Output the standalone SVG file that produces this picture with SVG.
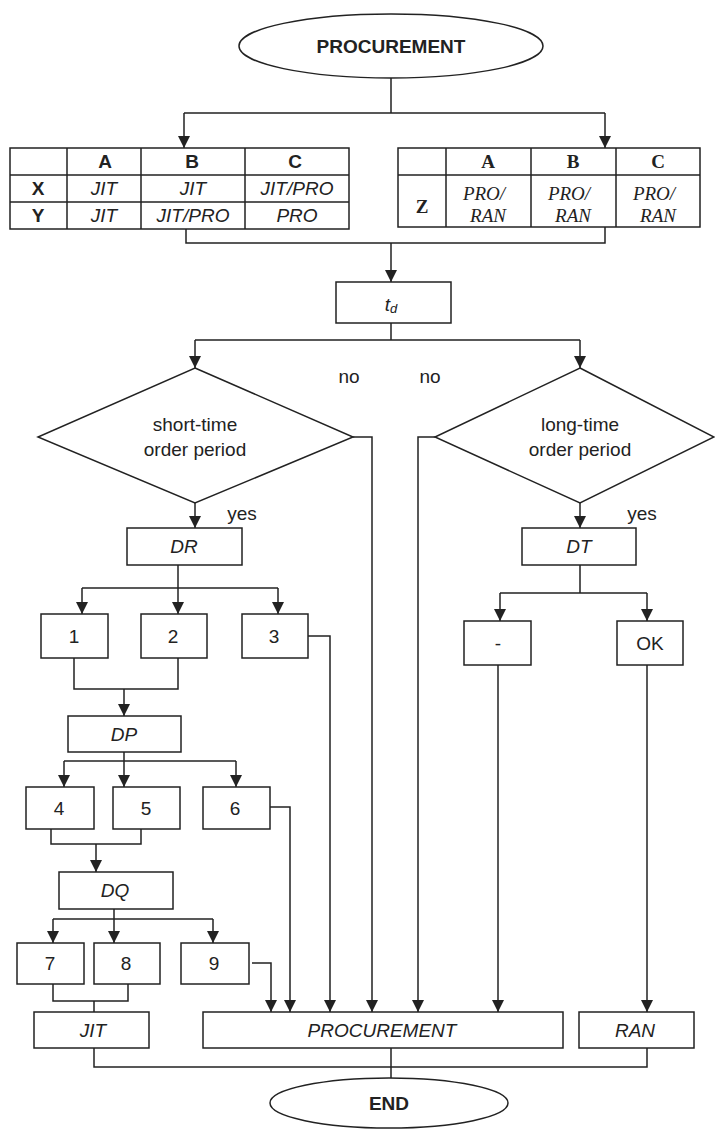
<svg xmlns="http://www.w3.org/2000/svg" width="715" height="1129" viewBox="0 0 715 1129">
<style>
.s{fill:#fff;stroke:#222;stroke-width:1.5}
.c{fill:none;stroke:#222;stroke-width:1.5}
.t{font-family:"Liberation Sans",Arial,sans-serif;font-size:19px;fill:#222;text-anchor:middle}
.b{font-weight:bold}
.i{font-style:italic}
.tm{font-family:"Liberation Serif","Times New Roman",serif;font-size:19px;fill:#222;text-anchor:middle}
</style>
<defs>
<marker id="a" markerWidth="12" markerHeight="12" refX="12" refY="6" orient="auto" markerUnits="userSpaceOnUse">
<path d="M0,0 L12,6 L0,12 z" fill="#222"/>
</marker>
</defs>
<rect width="715" height="1129" fill="#fff"/>
<g id="connectors" class="c">
<path d="M391,78 V113 M184,113 H605"/>
<path d="M184,113 V148" marker-end="url(#a)"/>
<path d="M605,113 V148" marker-end="url(#a)"/>
<path d="M186,229 V243 H605 V227"/>
<path d="M391,243 V282" marker-end="url(#a)"/>
<path d="M391,323 V340 M195,340 H580"/>
<path d="M195,340 V368" marker-end="url(#a)"/>
<path d="M580,340 V368" marker-end="url(#a)"/>
<path d="M353,437 H372 V1012" marker-end="url(#a)"/>
<path d="M435,437 H418 V1012" marker-end="url(#a)"/>
<path d="M195,503 V528" marker-end="url(#a)"/>
<path d="M580,503 V528" marker-end="url(#a)"/>
<path d="M178,565 V614" marker-end="url(#a)"/>
<path d="M82,588 H278"/>
<path d="M82,588 V614" marker-end="url(#a)"/>
<path d="M278,588 V614" marker-end="url(#a)"/>
<path d="M308,636 H330 V1012" marker-end="url(#a)"/>
<path d="M74,658 V689 H178 V658"/>
<path d="M124,689 V716" marker-end="url(#a)"/>
<path d="M124,752 V787" marker-end="url(#a)"/>
<path d="M64,761 H236"/>
<path d="M64,761 V787" marker-end="url(#a)"/>
<path d="M236,761 V787" marker-end="url(#a)"/>
<path d="M270,807 H290 V1012" marker-end="url(#a)"/>
<path d="M51,829 V844 H141 V829"/>
<path d="M96,844 V872" marker-end="url(#a)"/>
<path d="M114,909 V943" marker-end="url(#a)"/>
<path d="M53,919 H213"/>
<path d="M53,919 V943" marker-end="url(#a)"/>
<path d="M213,919 V943" marker-end="url(#a)"/>
<path d="M252,963 H271 V1012" marker-end="url(#a)"/>
<path d="M53,984 V1001 H128 V984 M94,1001 V1012"/>
<path d="M580,565 V593 M500,593 H647"/>
<path d="M500,593 V621" marker-end="url(#a)"/>
<path d="M647,593 V621" marker-end="url(#a)"/>
<path d="M498,665 V1012" marker-end="url(#a)"/>
<path d="M647,665 V1012" marker-end="url(#a)"/>
<path d="M94,1048 V1067 H647 V1048 M391,1048 V1078"/>
</g>
<g id="start">
<ellipse class="s" cx="391" cy="46" rx="152" ry="32"/>
<text class="t b" x="391" y="53">PROCUREMENT</text>
</g>
<g id="table-left">
<rect class="s" x="10" y="148" width="339" height="81"/>
<path class="c" d="M10,175 H349 M10,202 H349 M67,148 V229 M141,148 V229 M245,148 V229"/>
<text class="t b" x="105" y="168">A</text>
<text class="t b" x="192" y="168">B</text>
<text class="t b" x="295" y="168">C</text>
<text class="t b" x="38" y="195">X</text>
<text class="t b" x="38" y="222">Y</text>
<text class="t i" x="104" y="195">JIT</text>
<text class="t i" x="193" y="195">JIT</text>
<text class="t i" x="297" y="195">JIT/PRO</text>
<text class="t i" x="104" y="222">JIT</text>
<text class="t i" x="193" y="222">JIT/PRO</text>
<text class="t i" x="297" y="222">PRO</text>
</g>
<g id="table-right">
<rect class="s" x="398" y="148" width="302" height="79"/>
<path class="c" d="M398,175 H700 M446,148 V227 M531,148 V227 M616,148 V227"/>
<text class="tm b" x="488" y="168">A</text>
<text class="tm b" x="573" y="168">B</text>
<text class="tm b" x="658" y="168">C</text>
<text class="tm b" x="422" y="213">Z</text>
<text class="tm i" x="484" y="200">PRO/</text>
<text class="tm i" x="488" y="222">RAN</text>
<text class="tm i" x="569" y="200">PRO/</text>
<text class="tm i" x="573" y="222">RAN</text>
<text class="tm i" x="654" y="200">PRO/</text>
<text class="tm i" x="658" y="222">RAN</text>
</g>
<g id="td">
<rect class="s" x="336" y="282" width="115" height="41"/>
<text class="t i" x="391" y="311">t<tspan font-size="13" dy="2">d</tspan></text>
</g>
<g id="short-time">
<polygon class="s" points="195,368 353,437 195,503 38,437"/>
<text class="t" x="195" y="431">short-time</text>
<text class="t" x="195" y="456">order period</text>
</g>
<g id="long-time">
<polygon class="s" points="580,368 714,437 580,503 435,437"/>
<text class="t" x="580" y="431">long-time</text>
<text class="t" x="580" y="456">order period</text>
</g>
<g id="labels">
<text class="t" x="349" y="383">no</text>
<text class="t" x="430" y="383">no</text>
<text class="t" x="242" y="520">yes</text>
<text class="t" x="642" y="520">yes</text>
</g>
<g id="DR"><rect class="s" x="127" y="528" width="115" height="37"/><text class="t i" x="184" y="553">DR</text></g>
<g id="DT"><rect class="s" x="522" y="528" width="114" height="37"/><text class="t i" x="579" y="553">DT</text></g>
<g id="n1"><rect class="s" x="41" y="614" width="67" height="44"/><text class="t" x="74" y="643">1</text></g>
<g id="n2"><rect class="s" x="141" y="614" width="66" height="44"/><text class="t" x="173" y="643">2</text></g>
<g id="n3"><rect class="s" x="242" y="614" width="66" height="44"/><text class="t" x="274" y="643">3</text></g>
<g id="dash"><rect class="s" x="464" y="621" width="67" height="44"/><text class="t" x="498" y="650">-</text></g>
<g id="ok"><rect class="s" x="617" y="621" width="66" height="44"/><text class="t" x="650" y="650">OK</text></g>
<g id="DP"><rect class="s" x="68" y="716" width="113" height="36"/><text class="t i" x="124" y="741">DP</text></g>
<g id="n4"><rect class="s" x="26" y="787" width="68" height="42"/><text class="t" x="59" y="815">4</text></g>
<g id="n5"><rect class="s" x="113" y="787" width="67" height="42"/><text class="t" x="146" y="815">5</text></g>
<g id="n6"><rect class="s" x="203" y="787" width="67" height="42"/><text class="t" x="235" y="815">6</text></g>
<g id="DQ"><rect class="s" x="59" y="872" width="114" height="37"/><text class="t i" x="115" y="897">DQ</text></g>
<g id="n7"><rect class="s" x="17" y="943" width="67" height="41"/><text class="t" x="50" y="970">7</text></g>
<g id="n8"><rect class="s" x="94" y="943" width="66" height="41"/><text class="t" x="126" y="970">8</text></g>
<g id="n9"><rect class="s" x="181" y="943" width="68" height="41"/><text class="t" x="214" y="970">9</text></g>
<g id="JIT"><rect class="s" x="34" y="1012" width="115" height="36"/><text class="t i" x="93" y="1037">JIT</text></g>
<g id="procurement"><rect class="s" x="203" y="1012" width="360" height="36"/><text class="t i" x="382" y="1037">PROCUREMENT</text></g>
<g id="RAN"><rect class="s" x="579" y="1012" width="115" height="36"/><text class="t i" x="635" y="1037">RAN</text></g>
<g id="end">
<ellipse class="s" cx="389" cy="1103" rx="119" ry="25"/>
<text class="t b" x="389" y="1110">END</text>
</g>
</svg>
